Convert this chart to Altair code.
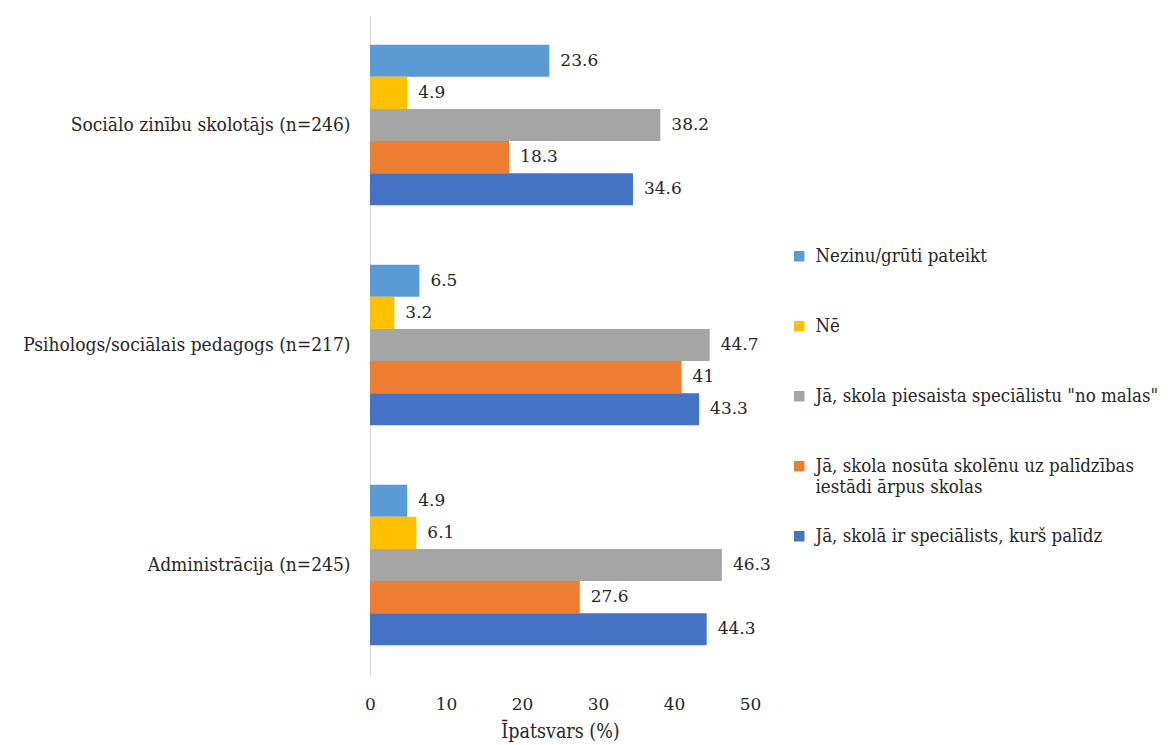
import altair as alt
import pandas as pd

categories = ["Sociālo zinību skolotājs (n=246)", "Psihologs/sociālais pedagogs (n=217)", "Administrācija (n=245)"]
series = ["Nezinu/grūti pateikt", "Nē", "Jā, skola piesaista speciālistu \"no malas\"",
          "Jā, skola nosūta skolēnu uz palīdzības iestādi ārpus skolas", "Jā, skolā ir speciālists, kurš palīdz"]
colors = ["#5B9BD5", "#FFC000", "#A5A5A5", "#ED7D31", "#4472C4"]

v_nezinu = [23.6, 6.5, 4.9]
v_ne = [4.9, 3.2, 6.1]
v_piesaista = [38.2, 44.7, 46.3]
v_nosuta = [18.3, 41, 27.6]
v_skola = [34.6, 43.3, 44.3]

rows = []
for s, vals in zip(series, [v_nezinu, v_ne, v_piesaista, v_nosuta, v_skola]):
    for c, v in zip(categories, vals):
        rows.append({"category": c, "series": s, "value": v, "label": f"{v:g}"})
df = pd.DataFrame(rows)

FC = "DejaVu Serif Condensed, DejaVu Serif"
FS = "DejaVu Serif"

base = alt.Chart(df).encode(
    y=alt.Y("category:N", sort=categories,
            scale=alt.Scale(paddingInner=0.27, paddingOuter=0.135),
            axis=alt.Axis(title=None, ticks=False, domain=True, domainColor="#D9D9D9",
                          labelPadding=20, labelFontSize=19, labelFont=FC,
                          labelColor="#262626", labelLimit=400)),
    yOffset=alt.YOffset("series:N", sort=series),
)

bars = base.mark_bar().encode(
    x=alt.X("value:Q", scale=alt.Scale(domain=[0, 50]),
            axis=alt.Axis(title="Īpatsvars (%)", values=[0, 10, 20, 30, 40, 50],
                          domain=False, ticks=False, grid=False, labelFlush=False,
                          labelPadding=21, labelFontSize=17, labelFont=FS, labelColor="#262626",
                          titleFontSize=19.5, titleFont=FC, titleFontWeight="normal",
                          titleColor="#262626", titlePadding=10)),
    color=alt.Color("series:N", sort=series,
                    scale=alt.Scale(domain=series, range=colors),
                    legend=alt.Legend(title=None, orient="none", legendX=420, legendY=232,
                                      symbolType="square", symbolSize=110, symbolStrokeWidth=0,
                                      labelFontSize=18.5, labelFont=FC, labelColor="#262626",
                                      labelLimit=600, rowPadding=30, labelOffset=7, gridAlign="all",
                                      labelExpr="datum.label == 'Jā, skola nosūta skolēnu uz palīdzības iestādi ārpus skolas' ? ['Jā, skola nosūta skolēnu uz palīdzības', 'iestādi ārpus skolas'] : datum.label")),
)

text = base.mark_text(align="left", baseline="middle", dx=11, fontSize=17, font=FS, color="#262626").encode(
    x=alt.X("value:Q"),
    text=alt.Text("label:N"),
)

chart = alt.layer(bars, text).properties(
    width=380, height=660,
    autosize=alt.AutoSizeParams(type="none"),
    padding={"left": 362, "top": 7, "right": 417, "bottom": 70},
).configure_view(stroke=None)

chart.save("out.html", embed_options={"renderer": "svg", "actions": False})
